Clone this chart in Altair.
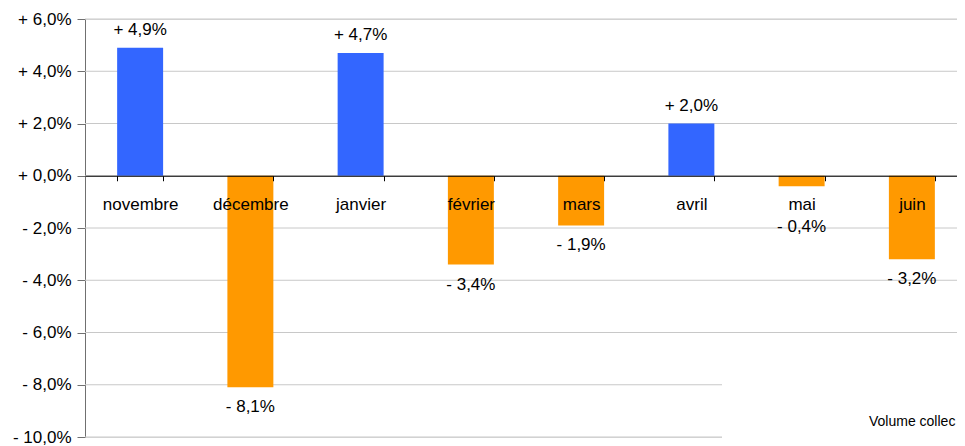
import altair as alt
import pandas as pd

months = ["novembre", "décembre", "janvier", "février", "mars", "avril", "mai", "juin"]
values = [4.9, -8.1, 4.7, -3.4, -1.9, 2.0, -0.4, -3.2]
tick_values = [-10, -8, -6, -4, -2, 0, 2, 4, 6]
note = "Volume collec"

df = pd.DataFrame({"mois": months, "variation": values})
df["label"] = [("+ " if v >= 0 else "- ") + f"{abs(v):.1f}".replace(".", ",") + "%" for v in values]
grid = pd.DataFrame({"tick": tick_values})
one = pd.DataFrame({"t": [note]})

W, H, RANGE = 872, 418, 882
FONT = "Liberation Sans"
FS = 17

ys = alt.Scale(domain=[-10, 6], nice=False, zero=False)
xs = alt.Scale(domain=months, range=[0, RANGE], paddingInner=0.583, paddingOuter=0.2915)

zero_from_top = H * 6 / 16
xaxis = alt.Axis(
    title=None, orient="bottom", offset=-(H - zero_from_top), domainColor="black",
    domainWidth=1, tickBand="extent", tickSize=5, tickColor="black", labelAngle=0,
    labelFontSize=FS, labelColor="black", labelPadding=16, labelFont=FONT, zindex=1, grid=False,
)
yaxis = alt.Axis(
    title=None, values=tick_values, tickSize=8, tickColor="#707070", domainColor="#707070",
    labelFontSize=FS, labelColor="black", labelPadding=6, labelFont=FONT, grid=False,
    labelExpr="(datum.value >= 0 ? '+ ' : '- ') + replace(format(abs(datum.value), '.1f'), '.', ',') + '%'",
)

gridlines = alt.Chart(grid).mark_rule(color="#c8c8c8", strokeWidth=1).encode(
    y=alt.Y("tick:Q", scale=ys, axis=yaxis), x=alt.value(0), x2=alt.value(RANGE)
)

cover = alt.Chart(one).mark_rect(color="white").encode(
    x=alt.value(637), x2=alt.value(RANGE), y=alt.value(318), y2=alt.value(425)
)

bars = alt.Chart(df).mark_bar().encode(
    x=alt.X("mois:N", scale=xs, sort=months, axis=xaxis),
    y=alt.Y("variation:Q", scale=ys, axis=yaxis),
    y2=alt.datum(0),
    color=alt.condition("datum.variation >= 0", alt.value("#3366FF"), alt.value("#FF9900")),
)

pos_labels = alt.Chart(df).transform_filter("datum.variation >= 0").mark_text(
    dy=-18, baseline="middle", fontSize=FS, font=FONT, color="black"
).encode(
    x=alt.X("mois:N", scale=xs, sort=months, axis=xaxis),
    y=alt.Y("variation:Q", scale=ys, axis=yaxis),
    text="label:N",
)

neg_labels = alt.Chart(df).transform_filter("datum.variation < 0").transform_calculate(
    ylab="min(datum.variation, -1.2)"
).mark_text(dy=20, baseline="middle", fontSize=FS, font=FONT, color="black").encode(
    x=alt.X("mois:N", scale=xs, sort=months, axis=xaxis),
    y=alt.Y("ylab:Q", scale=ys, axis=yaxis),
    text="label:N",
)

note_text = alt.Chart(one).mark_text(
    align="left", baseline="middle", fontSize=14, font=FONT, color="black"
).encode(x=alt.value(784), y=alt.value(403), text="t:N")

chart = alt.layer(gridlines, cover, bars, pos_labels, neg_labels, note_text).properties(
    width=W, height=H,
    autosize=alt.AutoSizeParams(type="none"),
    padding={"left": 77, "top": 11, "right": 0, "bottom": 8},
).configure_view(stroke=None).configure(font=FONT)

chart.save("out.html", embed_options={"renderer": "svg", "actions": False})
